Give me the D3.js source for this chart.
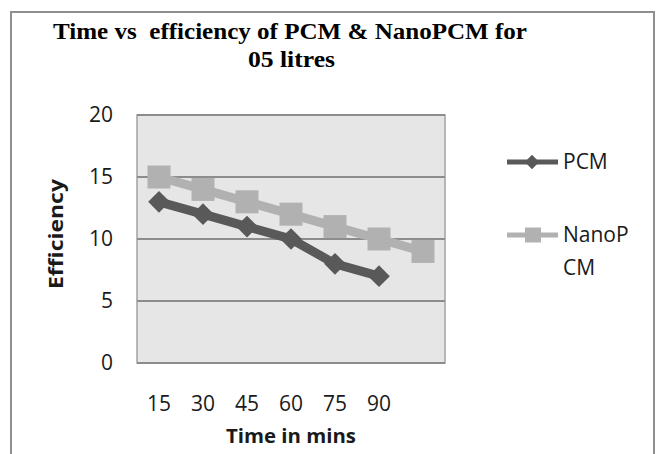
<!DOCTYPE html>
<html>
<head>
<meta charset="utf-8">
<script src="https://cdn.jsdelivr.net/npm/d3@7"></script>
<style>
  body { margin: 0; background: #fff; }
  text { font-family: "Open Sans", "Liberation Sans", sans-serif; fill: #1a1a1a; }
  .title { font-family: "Liberation Serif", "Times New Roman", serif; font-weight: bold; white-space: pre; fill: #000; }
</style>
</head>
<body>
<div id="chart"></div>
<script>
// data
var categories = ["15", "30", "45", "60", "75", "90", ""]
var pcm = [13, 12, 11, 10, 8, 7]
var nanoPcm = [15, 14, 13, 12, 11, 10, 9]
var yTicks = [0, 5, 10, 15, 20]

var w = 657, h = 454
// plot box (window.top is taken, so plot_* names)
var plot_left = 137, plot_right = 445, plot_top = 115, plot_bottom = 363

var dark = "#595959", light = "#b1b1b1"

var svg = d3.select("#chart").append("svg")
  .attr("width", w)
  .attr("height", h)

// outer frame
svg.append("rect")
  .attr("x", 11).attr("y", 12)
  .attr("width", 643).attr("height", 460)
  .attr("fill", "none")
  .attr("stroke", "#8f8f8f")
  .attr("stroke-width", 2)

svg.append("text").attr("class", "title")
  .attr("x", 53).attr("y", 39)
  .attr("font-size", 24)
  .attr("textLength", 474)
  .attr("lengthAdjust", "spacingAndGlyphs")
  .text("Time vs  efficiency of PCM & NanoPCM for")

svg.append("text").attr("class", "title")
  .attr("x", 248).attr("y", 67)
  .attr("font-size", 24)
  .attr("textLength", 87)
  .attr("lengthAdjust", "spacingAndGlyphs")
  .text("05 litres")

var x = d3.scaleBand().domain(d3.range(categories.length)).range([plot_left, plot_right])
var y = d3.scaleLinear().domain([0, 20]).range([plot_bottom, plot_top])

// plot background
svg.append("rect")
  .attr("x", plot_left).attr("y", plot_top)
  .attr("width", plot_right - plot_left).attr("height", plot_bottom - plot_top)
  .attr("fill", "#e6e6e6")
  .attr("stroke", "#a3a3a3")
  .attr("stroke-width", 1.5)

svg.selectAll(".grid")
  .data(yTicks)
  .enter().append("line")
  .attr("class", "grid")
  .attr("x1", plot_left).attr("x2", plot_right)
  .attr("y1", function(d){ return y(d) })
  .attr("y2", function(d){ return y(d) })
  .attr("stroke", "#8c8c8c")
  .attr("stroke-width", 1.8)

// axes, no lines, only labels
var yAxis = svg.append("g")
  .attr("transform", "translate(" + (plot_left - 24) + ",0)")
  .call(d3.axisLeft(y).tickValues(yTicks).tickSize(0).tickPadding(0))
yAxis.select(".domain").remove()
yAxis.selectAll("text").attr("font-size", 21).attr("font-family", null).attr("fill", "#1a1a1a")

var xAxis = svg.append("g")
  .attr("transform", "translate(0," + (plot_bottom + 33) + ")")
  .call(d3.axisBottom(x).tickFormat(function(i){ return categories[i] }).tickSize(0).tickPadding(0))
xAxis.select(".domain").remove()
xAxis.selectAll("text").attr("font-size", 21).attr("font-family", null).attr("fill", "#1a1a1a")

svg.append("text")
  .attr("x", (plot_left + plot_right) / 2).attr("y", 443)
  .attr("text-anchor", "middle")
  .attr("font-size", 20).attr("font-weight", "bold")
  .attr("textLength", 130)
  .attr("lengthAdjust", "spacingAndGlyphs")
  .text("Time in mins")

svg.append("text")
  .attr("transform", "translate(63,234) rotate(-90)")
  .attr("text-anchor", "middle")
  .attr("font-size", 20).attr("font-weight", "bold")
  .attr("textLength", 110)
  .attr("lengthAdjust", "spacingAndGlyphs")
  .text("Efficiency")

var line = d3.line()
  .x(function(d, i){ return x(i) + x.bandwidth() / 2 })
  .y(function(d){ return y(d) })

var diamond = d3.symbol().type(d3.symbolDiamond2)

// NanoPCM first, PCM on top
svg.append("path")
  .datum(nanoPcm)
  .attr("d", line)
  .attr("fill", "none")
  .attr("stroke", light)
  .attr("stroke-width", 9)

svg.selectAll(".sq")
  .data(nanoPcm)
  .enter().append("rect")
  .attr("class", "sq")
  .attr("x", function(d, i){ return x(i) + x.bandwidth() / 2 - 11.5 })
  .attr("y", function(d){ return y(d) - 11.5 })
  .attr("width", 23).attr("height", 23)
  .attr("fill", light)

svg.append("path")
  .datum(pcm)
  .attr("d", line)
  .attr("fill", "none")
  .attr("stroke", dark)
  .attr("stroke-width", 9)

svg.selectAll(".dm")
  .data(pcm)
  .enter().append("path")
  .attr("class", "dm")
  .attr("d", diamond.size(300))
  .attr("transform", function(d, i){
    return "translate(" + (x(i) + x.bandwidth() / 2) + "," + y(d) + ")"
  })
  .attr("fill", dark)

// legend
var leg = svg.append("g")
leg.append("line")
  .attr("x1", 507).attr("x2", 558).attr("y1", 162).attr("y2", 162)
  .attr("stroke", dark).attr("stroke-width", 5)
leg.append("path")
  .attr("d", diamond.size(130))
  .attr("transform", "translate(532,162)")
  .attr("fill", dark)
leg.append("text")
  .attr("x", 563).attr("y", 162).attr("dy", "0.35em")
  .attr("font-size", 21)
  .text("PCM")

leg.append("line")
  .attr("x1", 507).attr("x2", 558).attr("y1", 235).attr("y2", 235)
  .attr("stroke", light).attr("stroke-width", 5)
leg.append("rect")
  .attr("x", 525).attr("y", 227.5)
  .attr("width", 16).attr("height", 15)
  .attr("fill", light)
leg.append("text")
  .attr("x", 563).attr("y", 235).attr("dy", "0.35em")
  .attr("font-size", 21)
  .text("NanoP")
leg.append("text")
  .attr("x", 563).attr("y", 268).attr("dy", "0.35em")
  .attr("font-size", 21)
  .text("CM")
</script>
</body>
</html>
